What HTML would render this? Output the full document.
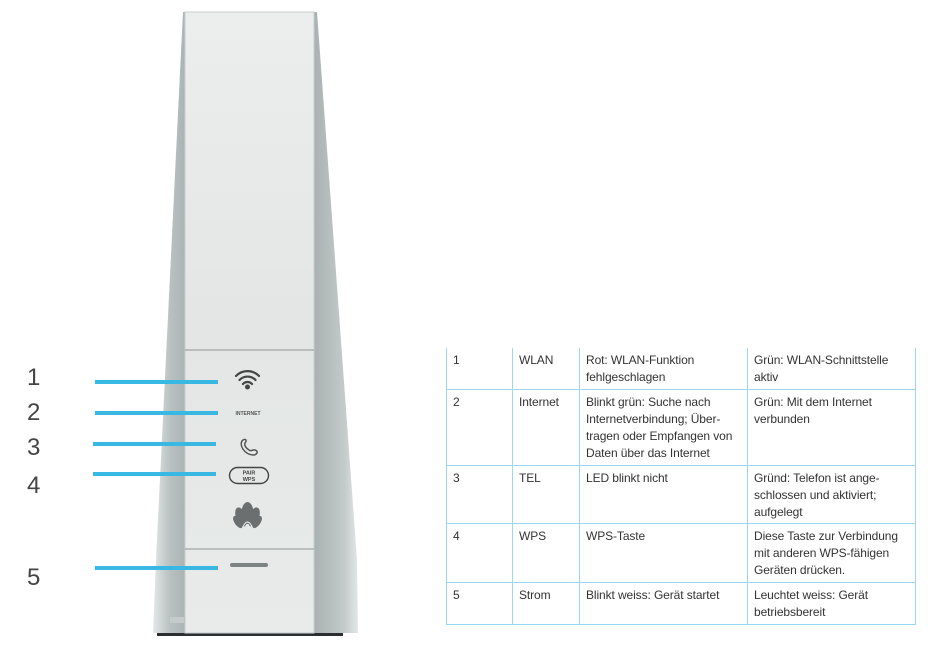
<!DOCTYPE html>
<html><head><meta charset="utf-8"><style>
html,body{margin:0;padding:0;background:#fff;}
body{width:949px;height:651px;position:relative;overflow:hidden;font-family:"Liberation Sans","DejaVu Sans",sans-serif;}
.num{position:absolute;left:27px;font-size:24px;color:#444;line-height:1;}
table{position:absolute;left:446px;top:348px;border-collapse:collapse;font-size:12px;color:#333;}
td{border:1.5px solid #9ad8ee;vertical-align:top;padding:4px 6px 0 6px;line-height:17px;white-space:nowrap;letter-spacing:-0.1px;}
tr:first-child td{border-top:none;}
</style></head><body>
<svg width="949" height="651" style="position:absolute;left:0;top:0">
<defs>
<linearGradient id="ls" x1="0" x2="1"><stop offset="0" stop-color="#e4e8e8"/><stop offset="0.5" stop-color="#b9c1c1"/><stop offset="1" stop-color="#aab3b3"/></linearGradient>
<linearGradient id="rs" x1="0" x2="1"><stop offset="0" stop-color="#a7b0b0"/><stop offset="0.7" stop-color="#c3caca"/><stop offset="1" stop-color="#e2e6e6"/></linearGradient>
<linearGradient id="ff" x1="0" y1="0" x2="0" y2="1"><stop offset="0" stop-color="#eceeee"/><stop offset="0.5" stop-color="#e3e6e5"/><stop offset="1" stop-color="#e8ebea"/></linearGradient>
</defs>
<rect x="157" y="631" width="186" height="5" fill="#2c2f30"/>
<polygon points="183,12 186,12 186,633 153,633 156,560" fill="url(#ls)"/>
<polygon points="312,12 317,12 357,560 358,633 312,633" fill="url(#rs)"/>
<rect x="185" y="12" width="129" height="621" fill="url(#ff)" stroke="#c8cdcd" stroke-width="1"/>
<line x1="185" y1="350" x2="314" y2="350" stroke="#8e9595" stroke-width="1"/>
<line x1="185" y1="549" x2="314" y2="549" stroke="#8e9595" stroke-width="1"/>
<rect x="170" y="617" width="14" height="6" fill="#c5cbcb"/>
<g stroke="#3ab8e4" stroke-width="4">
<line x1="95" y1="382" x2="218" y2="382"/>
<line x1="95" y1="413" x2="218" y2="413"/>
<line x1="93" y1="444" x2="216" y2="444"/>
<line x1="93" y1="474" x2="216" y2="474"/>
<line x1="95" y1="568" x2="218" y2="568"/>
</g>
<g fill="none" stroke="#444" stroke-width="2.2" stroke-linecap="round">
<path d="M236,376 A16,16 0 0 1 259,376"/>
<path d="M239.5,380 A11,11 0 0 1 255.5,380"/>
<path d="M243,384 A6,6 0 0 1 252,384"/>
</g>
<circle cx="247.5" cy="387" r="2.5" fill="#444"/>
<text x="248" y="415" font-size="5" fill="#555" text-anchor="middle" font-weight="bold">INTERNET</text>
<path d="M243,440 C238,444 244,455 254,455 C258,454 258,451 255,450 C253,449 251,452 249,450 C246,448 244,446 245,443 C247,441 246,438 243,440Z" fill="none" stroke="#555" stroke-width="1.5"/>
<rect x="229.5" y="467.5" width="39" height="16" rx="8" fill="none" stroke="#444" stroke-width="1.4"/>
<text x="249" y="474.5" font-size="5.5" fill="#444" text-anchor="middle" font-weight="bold">PAIR</text>
<text x="249" y="481" font-size="5.5" fill="#444" text-anchor="middle" font-weight="bold">WPS</text>
<g fill="#6b6f70">
<ellipse cx="247.5" cy="513" rx="6" ry="11"/>
<ellipse cx="241" cy="517" rx="5" ry="10" transform="rotate(-20 241 517)"/>
<ellipse cx="254" cy="517" rx="5" ry="10" transform="rotate(20 254 517)"/>
<ellipse cx="238" cy="522" rx="3.5" ry="7" transform="rotate(-35 238 522)"/>
<ellipse cx="257" cy="522" rx="3.5" ry="7" transform="rotate(35 257 522)"/>
</g>
<path d="M242,529 Q247.5,515 253,529" fill="none" stroke="#dfe2e2" stroke-width="1.3"/>
<rect x="230" y="563" width="38" height="4" rx="2" fill="#7d8383"/>
</svg>
<div class="num" style="top:366px">1</div>
<div class="num" style="top:401px">2</div>
<div class="num" style="top:436px">3</div>
<div class="num" style="top:474px">4</div>
<div class="num" style="top:566px">5</div>
<table>
<colgroup><col style="width:66px"><col style="width:67px"><col style="width:168px"><col style="width:168px"></colgroup>
<tr style="height:41px"><td>1</td><td>WLAN</td><td>Rot: WLAN-Funktion<br>fehlgeschlagen</td><td>Grün: WLAN-Schnittstelle<br>aktiv</td></tr>
<tr style="height:76px"><td>2</td><td>Internet</td><td>Blinkt grün: Suche nach<br>Internetverbindung; Über-<br>tragen oder Empfangen von<br>Daten über das Internet</td><td>Grün: Mit dem Internet<br>verbunden</td></tr>
<tr style="height:58px"><td>3</td><td>TEL</td><td>LED blinkt nicht</td><td>Gründ: Telefon ist ange-<br>schlossen und aktiviert;<br>aufgelegt</td></tr>
<tr style="height:59px"><td>4</td><td>WPS</td><td>WPS-Taste</td><td>Diese Taste zur Verbindung<br>mit anderen WPS-fähigen<br>Geräten drücken.</td></tr>
<tr style="height:42px"><td>5</td><td>Strom</td><td>Blinkt weiss: Gerät startet</td><td>Leuchtet weiss: Gerät<br>betriebsbereit</td></tr>
</table>
</body></html>
